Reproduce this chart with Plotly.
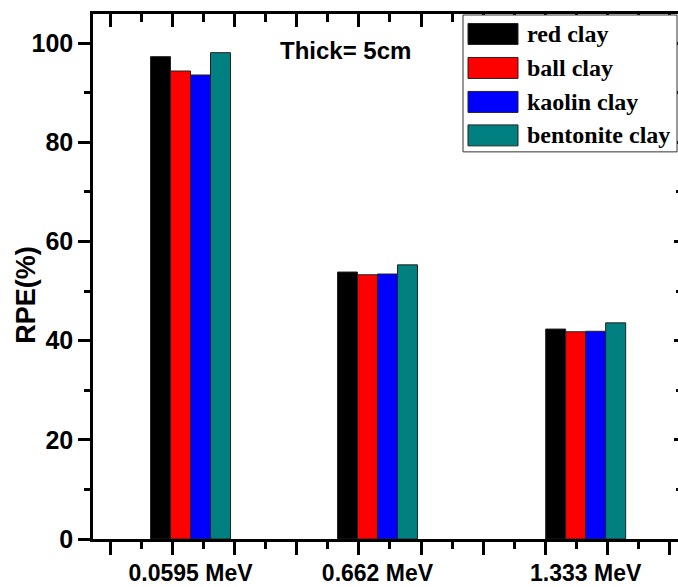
import plotly.graph_objects as go

# ---- data ----
categories = ["0.0595 MeV", "0.662 MeV", "1.333 MeV"]
series_names = ["red clay", "ball clay", "kaolin clay", "bentonite clay"]
red_clay = [97.3, 53.85, 42.35]
ball_clay = [94.4, 53.3, 41.8]
kaolin_clay = [93.6, 53.45, 41.9]
bentonite_clay = [98.1, 55.3, 43.6]
series_values = [red_clay, ball_clay, kaolin_clay, bentonite_clay]
colors = ["#000000", "#FF0000", "#0000FF", "#008080"]

# ---- layout geometry ----
W, H = 678, 587
ML, MR, MT, MB = 93, 0, 14, 47.5
PW, PH = W - ML - MR, H - MT - MB
group_pos = [2.294, 5.299, 8.645]   # category positions on the numeric x axis
bar_w = 0.3214
x_range = [0.7268, 10.129]
y_range = [0, 105.9]

def px_x(p):
    return (p - ML) / PW

def px_y(p):
    return (H - MB - p) / PH

fig = go.Figure()
n = len(series_names)
for i, (name, vals, col) in enumerate(zip(series_names, series_values, colors)):
    fig.add_trace(go.Bar(
        x=group_pos, y=vals, name=name,
        width=bar_w, offset=(-n / 2 + i) * bar_w,
        marker=dict(color=col, line=dict(color="#222222", width=1)),
        showlegend=False, xaxis="x", yaxis="y",
    ))

# dummy traces to activate overlay axes
fig.add_trace(go.Scatter(x=[None], y=[None], xaxis="x2", yaxis="y2",
                         showlegend=False, hoverinfo="skip"))
fig.add_trace(go.Scatter(x=[None], y=[None], xaxis="x3", yaxis="y",
                         showlegend=False, hoverinfo="skip"))

sans = "Liberation Sans, Arial, sans-serif"
serif = "Liberation Serif, Times New Roman, serif"
lw = 2.5

fig.update_layout(
    width=W, height=H,
    margin=dict(l=ML, r=MR, t=MT, b=MB, pad=0, autoexpand=False),
    paper_bgcolor="white", plot_bgcolor="white",
    barmode="overlay",
    xaxis=dict(range=x_range, showgrid=False, zeroline=False, automargin=False,
               showline=True, linecolor="black", linewidth=lw,
               ticks="outside", ticklen=13, tickwidth=lw, tickcolor="black",
               tick0=1, dtick=1, showticklabels=False,
               minor=dict(ticks="outside", ticklen=7, tickwidth=lw,
                          tickcolor="black", tick0=1, dtick=0.5, showgrid=False)),
    xaxis2=dict(range=x_range, overlaying="x", side="top", anchor="y2",
                showgrid=False, zeroline=False, automargin=False,
                showline=True, linecolor="black", linewidth=lw,
                ticks="inside", ticklen=13, tickwidth=lw, tickcolor="black",
                tick0=1, dtick=1, showticklabels=False,
                minor=dict(ticks="inside", ticklen=8, tickwidth=lw,
                           tickcolor="black", tick0=1, dtick=0.5, showgrid=False)),
    xaxis3=dict(range=x_range, overlaying="x", side="bottom", anchor="y",
                showgrid=False, zeroline=False, showline=False, automargin=False,
                tickmode="array", tickvals=group_pos, ticktext=categories,
                ticks="outside", ticklen=13, tickcolor="rgba(0,0,0,0)",
                tickfont=dict(family=sans, size=23, color="black", weight="bold")),
    yaxis=dict(range=y_range, showgrid=False, zeroline=False, automargin=False,
               showline=True, linecolor="black", linewidth=lw,
               ticks="outside", ticklen=12, tickwidth=lw, tickcolor="black",
               tick0=0, dtick=20,
               tickfont=dict(family=sans, size=25, color="black", weight="bold"),
               minor=dict(ticks="outside", ticklen=6, tickwidth=lw,
                          tickcolor="black", tick0=0, dtick=10, showgrid=False)),
    yaxis2=dict(range=y_range, overlaying="y", side="right", anchor="x2",
                showgrid=False, zeroline=False, showline=False, automargin=False,
                ticks="inside", ticklen=4, tickwidth=lw, tickcolor="black",
                tick0=0, dtick=20, showticklabels=False,
                minor=dict(ticks="inside", ticklen=2, tickwidth=lw,
                           tickcolor="black", tick0=0, dtick=10, showgrid=False)),
)

annotations = [
    dict(text="RPE(%)", x=px_x(26), y=px_y(295), xref="paper", yref="paper",
         textangle=-90, showarrow=False, xanchor="center", yanchor="middle",
         font=dict(family=sans, size=27, color="black", weight="bold")),
    dict(text="Thick= 5cm", x=px_x(345), y=px_y(51), xref="paper", yref="paper",
         showarrow=False, xanchor="center", yanchor="middle",
         font=dict(family=sans, size=24, color="black", weight="bold")),
]

shapes = [dict(type="rect", xref="paper", yref="paper",
               x0=px_x(463), x1=px_x(677), y0=px_y(152), y1=px_y(15),
               line=dict(color="#333333", width=1), fillcolor="white", layer="above")]

row_centers = [34, 68, 102, 135.5]
for name, col, rc in zip(series_names, colors, row_centers):
    shapes.append(dict(type="rect", xref="paper", yref="paper",
                       x0=px_x(468), x1=px_x(518), y0=px_y(rc + 10.5), y1=px_y(rc - 10.5),
                       line=dict(color="#222222", width=1), fillcolor=col, layer="above"))
    annotations.append(dict(text=name, x=px_x(525), y=px_y(rc), xref="paper", yref="paper",
                            showarrow=False, xanchor="left", yanchor="middle",
                            font=dict(family=serif, size=24, color="black", weight="bold")))

fig.update_layout(shapes=shapes, annotations=annotations)
fig.write_html("out.html")
